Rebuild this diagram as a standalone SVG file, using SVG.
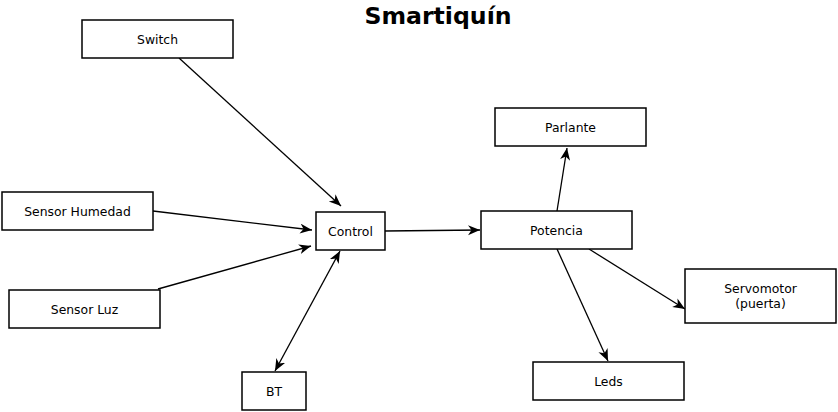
<svg xmlns="http://www.w3.org/2000/svg" width="838" height="412" viewBox="0 0 838 412">
<style>
.n rect{fill:#fff;stroke:#000;stroke-width:1.5}
.n text{font-family:"DejaVu Sans",sans-serif;font-size:12.4px;text-anchor:middle;dominant-baseline:central;fill:#000}
.e line{stroke:#000;stroke-width:1.3;fill:none}
.t{font-family:"DejaVu Sans",sans-serif;font-weight:bold;font-size:23.6px;text-anchor:middle;fill:#000}
</style>
<defs>
<marker id="a" markerUnits="userSpaceOnUse" markerWidth="13" markerHeight="11" refX="12" refY="5" orient="auto-start-reverse" viewBox="0 0 13 11">
<path d="M0,0 L12,5 L0,10 L3.5,5 z" fill="#000"/>
</marker>
</defs>
<rect width="838" height="412" fill="#fff"/>
<text class="t" x="438" y="24">Smartiquín</text>
<g class="e">
<line x1="179" y1="58" x2="341" y2="206" marker-end="url(#a)"/>
<line x1="153" y1="211" x2="312" y2="230" marker-end="url(#a)"/>
<line x1="158" y1="289" x2="311" y2="246" marker-end="url(#a)"/>
<line x1="275" y1="371" x2="340" y2="251" marker-start="url(#a)" marker-end="url(#a)"/>
<line x1="385" y1="231" x2="480" y2="230" marker-end="url(#a)"/>
<line x1="557" y1="211" x2="567" y2="148" marker-end="url(#a)"/>
<line x1="589" y1="249" x2="685" y2="309" marker-end="url(#a)"/>
<line x1="557" y1="249" x2="608" y2="361" marker-end="url(#a)"/>
</g>
<g id="switch" class="n"><rect x="82" y="20" width="151" height="38"/><text x="157.5" y="39">Switch</text></g>
<g id="sensor-humedad" class="n"><rect x="2" y="192" width="151" height="38"/><text x="77.5" y="211">Sensor Humedad</text></g>
<g id="sensor-luz" class="n"><rect x="9" y="290" width="151" height="38"/><text x="84.5" y="309">Sensor Luz</text></g>
<g id="control" class="n"><rect x="316" y="212" width="69" height="38"/><text x="350.5" y="231">Control</text></g>
<g id="bt" class="n"><rect x="242" y="372" width="64" height="38"/><text x="274" y="391">BT</text></g>
<g id="potencia" class="n"><rect x="481" y="211" width="151" height="38"/><text x="556.5" y="230">Potencia</text></g>
<g id="parlante" class="n"><rect x="495" y="108" width="151" height="38"/><text x="570.5" y="127">Parlante</text></g>
<g id="servomotor" class="n"><rect x="685" y="269" width="151" height="54"/><text x="760.5" y="288">Servomotor</text><text x="760.5" y="303">(puerta)</text></g>
<g id="leds" class="n"><rect x="533" y="362" width="151" height="38"/><text x="608.5" y="381">Leds</text></g>
</svg>
